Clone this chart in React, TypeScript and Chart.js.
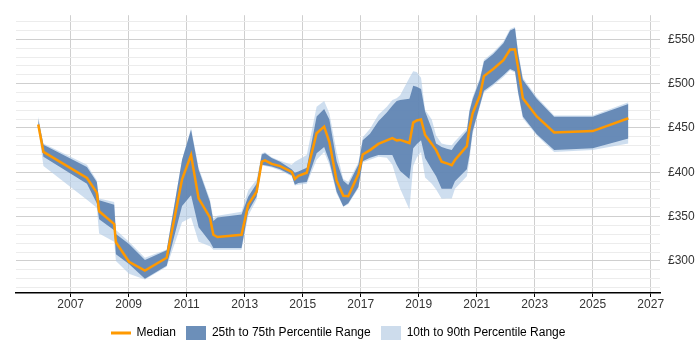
import { useEffect, useRef } from 'react';
import { Chart, registerables } from 'chart.js';

Chart.register(...registerables);
Chart.defaults.font.family = '"Liberation Sans", Arial, sans-serif';

// Sample dates (decimal years)
const years = [
  2005.88, 2006.06, 2007.56, 2007.9, 2007.98, 2008.5, 2008.56, 2009.01, 2009.56, 2010.31,
  2010.84, 2011.15, 2011.41, 2011.8, 2011.92, 2012.06, 2012.89, 2013.12, 2013.41, 2013.59,
  2013.7, 2013.93, 2014.22, 2014.62, 2014.73, 2014.85, 2015.14, 2015.48, 2015.74, 2015.92,
  2016.17, 2016.4, 2016.57, 2016.92, 2017.07, 2017.32, 2017.61, 2017.9, 2018.09, 2018.24,
  2018.36, 2018.68, 2018.81, 2018.93, 2019.08, 2019.22, 2019.45, 2019.6, 2019.79, 2019.97,
  2020.14, 2020.25, 2020.66, 2020.75, 2020.86, 2021.11, 2021.25, 2021.57, 2021.92, 2022.15,
  2022.32, 2022.43, 2022.59, 2023.07, 2023.67, 2025.0, 2026.23,
];

// Daily rate percentiles (£)
const median = [
  454, 423, 393.5, 377, 356, 341.5, 321, 299, 289, 303.5,
  392, 419.5, 370.5, 349, 329.5, 327, 329.5, 363.5, 378, 412,
  413.5, 409.5, 407, 400.5, 392.5, 396, 399.5, 444, 451.5, 434,
  390.5, 373.5, 373, 398, 420, 425, 432, 436, 438.5, 436,
  436.5, 433, 456, 458.5, 459.5, 442, 432, 425, 412, 410,
  408, 414, 429.5, 450, 466.5, 486.5, 508.5, 516.5, 526.5, 538.5,
  538.5, 517.5, 483.5, 463, 445, 446.5, 461,
];
const p75 = [
  460, 431, 406, 389, 368.5, 363.5, 330.5, 319, 301, 312,
  414, 448, 403, 367, 345, 349, 352.5, 372.5, 387, 420,
  421.5, 416, 412, 403.5, 399.5, 401, 405, 463, 471.5, 459.5,
  412.5, 390.5, 385.5, 408.5, 436, 443.5, 457.5, 467.5, 475, 480.5,
  481.5, 483, 497.5, 496.5, 494, 468.5, 449, 432.5, 428.5, 426.5,
  425, 430.5, 446.5, 468.5, 482.5, 504.5, 525, 533.5, 545.5, 560,
  562.5, 533.5, 504.5, 483, 462.5, 462.5, 477,
];
const p25 = [
  451, 417.5, 387, 365, 347, 334.5, 307.5, 296.5, 280, 294.5,
  362, 374, 338, 321.5, 314.5, 314.5, 314.5, 356, 372.5, 408.5,
  408, 406.5, 403.5, 396.5, 386, 388, 389, 421.5, 428.5, 412.5,
  378, 361.5, 365, 383.5, 412.5, 416.5, 419.5, 419.5, 419.5, 408.5,
  401.5, 392.5, 427, 431.5, 436, 416, 403.5, 395.5, 381.5, 381.5,
  381.5, 390, 403.5, 419.5, 446.5, 475.5, 492, 499.5, 509.5, 516.5,
  514, 490, 463, 443, 425, 427, 438,
];
const p90 = [
  463, 432.5, 408.5, 391, 370.5, 366.5, 335, 321.5, 303.5, 313,
  414, 450, 405.5, 369.5, 348, 351, 355.5, 379.5, 391.5, 421.5,
  422.5, 417, 413, 408.5, 412, 414, 419.5, 474, 480.5, 466.5,
  423, 392.5, 389, 411, 439.5, 449, 465, 474, 481.5, 483.5,
  487, 506.5, 514, 513, 506.5, 470.5, 459.5, 441.5, 432.5, 431,
  430.5, 435, 449, 470.5, 485, 506.5, 527, 535.5, 547.5, 561.5,
  564, 536, 506.5, 485, 464, 464, 479,
];
const p10 = [
  449, 407, 369, 360, 331, 321.5, 300, 285.5, 279, 293.5,
  343.5, 349, 321.5, 316.5, 312.5, 312.5, 312.5, 351, 369, 407.5,
  407, 405.5, 402, 395.5, 385, 386, 387, 414, 423, 408.5,
  376, 361, 364, 382, 411, 414, 417.5, 416.5, 408.5, 392.5,
  381.5, 358, 407, 416.5, 423, 394, 387, 380.5, 370, 370.5,
  370.5, 381.5, 395.5, 414, 443.5, 474, 490, 498, 507.5, 515,
  512.5, 488, 461, 441.5, 423, 425, 432.5,
];

// Axis ticks
const yearTicks = [2007, 2009, 2011, 2013, 2015, 2017, 2019, 2021, 2023, 2025, 2027];
const rateGrid = [
  270, 280, 290, 300, 310, 320, 330, 340, 350, 360, 370, 380, 390, 400, 410, 420,
  430, 440, 450, 460, 470, 480, 490, 500, 510, 520, 530, 540, 550, 560, 570,
];

const MEDIAN_COLOR = '#ff9900';
const IQR_COLOR = 'rgba(90, 128, 175, 0.88)';
const IQR_SWATCH = '#6c8fb9';
const WIDE_COLOR = 'rgba(180, 205, 230, 0.65)';
const WIDE_SWATCH = '#cddcec';

const points = (vals: number[]) => vals.map((v, i) => ({ x: years[i], y: v }));

function swatch(color: string, lineHeight?: number): HTMLCanvasElement {
  const c = document.createElement('canvas');
  c.width = 20;
  c.height = 14;
  const g = c.getContext('2d')!;
  g.fillStyle = color;
  if (lineHeight) g.fillRect(0, (14 - lineHeight) / 2, 20, lineHeight);
  else g.fillRect(0, 0, 20, 14);
  return c;
}

// Centre the legend under the plot area rather than the whole canvas
const legendCentre = {
  id: 'legendCentre',
  afterLayout(chart: any) {
    const lg = chart.legend;
    if (!lg || !chart.chartArea) return;
    const mid = (chart.chartArea.left + chart.chartArea.right) / 2;
    const d = mid - (lg.left + lg.right) / 2;
    lg.left += d;
    lg.right += d;
  },
};

export default function App() {
  const ref = useRef<HTMLCanvasElement>(null);

  useEffect(() => {
    if (!ref.current) return;
    const icons = [swatch(MEDIAN_COLOR, 3), swatch(IQR_SWATCH), swatch(WIDE_SWATCH)];
    const legendNames = ['Median', '25th to 75th Percentile Range', '10th to 90th Percentile Range'];

    const band = (label: string, data: number[], fill: any, color?: string) => ({
      label,
      data: points(data),
      borderColor: 'transparent',
      borderWidth: 0,
      backgroundColor: color || 'transparent',
      pointRadius: 0,
      fill,
      tension: 0,
    });

    const chart = new Chart(ref.current, {
      type: 'line',
      data: {
        datasets: [
          {
            label: 'Median',
            data: points(median),
            borderColor: MEDIAN_COLOR,
            borderWidth: 2.5,
            pointRadius: 0,
            fill: false,
            tension: 0,
          },
          band('75th', p75, '+1', IQR_COLOR),
          band('25th', p25, false),
          band('90th', p90, '+1', WIDE_COLOR),
          band('10th', p10, false),
        ] as any,
      },
      options: {
        animation: false,
        responsive: false,
        events: [],
        layout: { padding: { left: 16, top: 5, right: 0, bottom: 1 } },
        scales: {
          x: {
            type: 'linear',
            min: 2005.114,
            max: 2027.32,
            afterBuildTicks: (s: any) => {
              s.ticks = yearTicks.map((v) => ({ value: v }));
            },
            afterFit: (s: any) => {
              s.height = 24;
            },
            ticks: {
              callback: (v: any) => String(v),
              color: '#333',
              font: { size: 12 },
              padding: 0,
              maxRotation: 0,
              autoSkip: false,
            },
            grid: { color: '#cfcfcf', tickColor: '#000', tickLength: 4 },
            border: { color: '#000', width: 1.5 },
          },
          y: {
            type: 'linear',
            position: 'right',
            min: 263.8,
            max: 577.2,
            afterBuildTicks: (s: any) => {
              s.ticks = rateGrid.map((v) => ({ value: v }));
            },
            afterFit: (s: any) => {
              s.width = 40;
            },
            ticks: {
              callback: (v: any) => (Number(v) % 50 === 0 ? '£' + v : ''),
              color: '#333',
              font: { size: 12 },
              padding: 8,
              autoSkip: false,
            },
            grid: {
              color: (c: any) => (c.tick && c.tick.value % 50 === 0 ? '#cfcfcf' : '#ececec'),
              drawTicks: false,
            },
            border: { display: false },
          },
        },
        plugins: {
          tooltip: { enabled: false },
          legend: {
            position: 'bottom',
            onClick: () => {},
            labels: {
              usePointStyle: true,
              pointStyleWidth: 20,
              boxHeight: 12,
              padding: 10,
              color: '#333',
              font: { size: 12 },
              generateLabels: () =>
                legendNames.map((text, i) => ({
                  text,
                  pointStyle: icons[i] as any,
                  fillStyle: 'transparent',
                  strokeStyle: 'transparent',
                  lineWidth: 0,
                  hidden: false,
                  datasetIndex: i,
                })),
            },
          },
        },
      },
      plugins: [legendCentre],
    });

    return () => chart.destroy();
  }, []);

  return (
    <div style={{ position: 'absolute', left: 0, top: 0, width: 700, height: 350 }}>
      <canvas ref={ref} width={700} height={350} style={{ display: 'block' }} />
    </div>
  );
}
